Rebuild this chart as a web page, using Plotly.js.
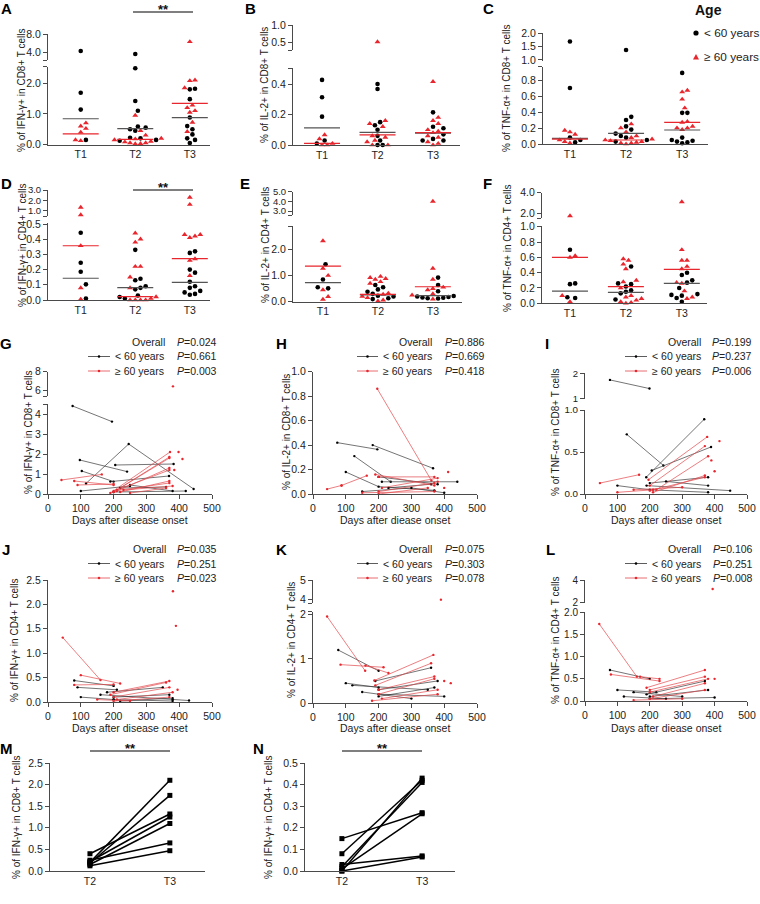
<!DOCTYPE html>
<html><head><meta charset="utf-8">
<script src="https://cdn.plot.ly/plotly-3.0.1.min.js"></script>
<style>html,body{margin:0;padding:0;background:#fff}#c{width:760px;height:904px}</style>
</head><body><div id="c"></div>
<script>
// ---------------- DATA ----------------
const timeLabels = ['T1','T2','T3'];
const pairLabels = ['T2','T3'];
// A: IFN-γ+ in CD8+ (per time point T1,T2,T3)
const A_young = [[4.3,1.69,1.14,0.15],[3.64,2.49,1.42,1.10,0.59,0.55,0.50,0.45,0.22,0.20,0.15,0.12],[1.82,1.80,1.48,0.88,0.60,0.50,0.33,0.20,0.15,0.05]];
const A_old   = [[0.70,0.60,0.52,0.40,0.15,0.12],[0.95,0.45,0.30,0.20,0.18,0.15,0.10,0.08,0.05,0.05,0.03,0.02],[6.3,2.10,2.08,1.85,1.28,1.20,1.10,1.05,0.72,0.42]];
const A_meanYoung = [0.84,0.52,0.88], A_meanOld = [0.35,0.17,1.34];
// B: IL-2+ in CD8+
const B_young = [[0.427,0.313,0.186,0.03,0.01],[0.40,0.367,0.15,0.13,0.10,0.06,0.03,0.0,0.0],[0.214,0.12,0.11,0.07,0.04,0.03,0.03]];
const B_old   = [[0.066,0.04,0.01,0.0,0.0],[0.52,0.16,0.14,0.12,0.06,0.05,0.03,0.02,0.0,0.0],[0.415,0.18,0.16,0.14,0.10,0.09,0.08,0.06,0.05,0.02,0.01,0.0]];
const B_meanYoung = [0.112,0.083,0.078], B_meanOld = [0.011,0.066,0.081];
// C: TNF-α+ in CD8+
const C_young = [[1.69,0.70,0.08,0.05,0.02],[1.375,0.34,0.30,0.22,0.18,0.13,0.10,0.08,0.05,0.03],[0.89,0.39,0.39,0.08,0.05,0.04,0.03,0.02,0.01]];
const C_old   = [[0.17,0.15,0.12,0.05,0.03,0.01],[0.25,0.20,0.15,0.10,0.08,0.06,0.05,0.04,0.03,0.02,0.01,0.01,0.0],[0.67,0.65,0.56,0.45,0.28,0.27,0.22,0.20,0.20,0.18]];
const C_meanYoung = [0.071,0.133,0.175], C_meanOld = [0.06,0.05,0.27];
// D: IFN-γ+ in CD4+
const D_young = [[0.443,0.245,0.186,0.103,0.01],[0.33,0.14,0.13,0.09,0.08,0.07,0.03,0.02,0.01],[0.32,0.31,0.20,0.18,0.12,0.09,0.08,0.06,0.05,0.04,0.035]];
const D_old   = [[1.32,0.6,0.357,0.08,0.005],[0.44,0.40,0.38,0.22,0.22,0.15,0.08,0.02,0.01,0.0,0.0,0.0,0.0],[2.29,1.6,0.43,0.43,0.42,0.41,0.27,0.26,0.16]];
const D_meanYoung = [0.143,0.081,0.116], D_meanOld = [0.357,0.022,0.272];
// E: IL-2+ in CD4+
const E_young = [[1.43,0.85,0.55,0.51],[0.64,0.55,0.47,0.38,0.30,0.23,0.20,0.13,0.10],[0.92,0.64,0.40,0.22,0.20,0.18,0.16,0.15,0.13,0.12]];
const E_old   = [[2.32,1.27,1.0,0.45,0.19,0.09],[0.96,0.92,0.88,0.85,0.76,0.70,0.32,0.28,0.20,0.15,0.06,0.02],[4.0,1.27,0.85,0.55,0.50,0.45,0.30,0.25,0.10]];
const E_meanYoung = [0.73,0.26,0.23], E_meanOld = [1.36,0.28,0.57];
// F: TNF-α+ in CD4+
const F_young = [[0.70,0.26,0.25,0.08,0.07],[0.48,0.26,0.25,0.22,0.17,0.15,0.13,0.05],[0.40,0.37,0.30,0.27,0.20,0.12,0.11,0.10,0.07,0.02]];
const F_old   = [[1.74,0.62,0.60,0.10,0.02],[0.58,0.56,0.51,0.45,0.30,0.28,0.20,0.10,0.08,0.06,0.04,0.02,0.01,0.0],[3.1,0.70,0.56,0.56,0.48,0.45,0.27,0.26,0.16,0.08,0.06]];
const F_meanYoung = [0.16,0.143,0.26], F_meanOld = [0.60,0.217,0.443];

// G-L: days after onset / values per subject
const G_young_days = [[75,195],[116,246,444],[97,241],[103,200],[205,383],[190,369],[200,420],[100,250],[220,360],[250,380]];
const G_young_vals = [[4.4,3.62],[0.53,2.5,0.25],[1.7,1.12],[1.15,0.62],[1.45,1.5],[0.62,0.9],[0.1,0.15],[0.15,0.4],[0.3,0.35],[0.45,0.15]];
const G_old_days = [[41,164],[80,200],[90,200],[190,372],[200,370],[200,370],[210,370],[210,370],[220,370],[200,370],[230,380],[250,360]];
const G_old_vals = [[0.7,0.98],[0.65,0.45],[0.45,0.5],[0.05,2.1],[0.1,1.85],[0.1,1.8],[0.15,1.3],[0.2,1.2],[0.1,0.65],[0.15,0.55],[0.2,0.4],[0.05,0.3]];
const G_single_days = [381,398,410,385], G_single_vals = [6.4,2.1,1.75,1.2];

const H_young_days = [[74,196],[182,366],[126,237],[100,200,370],[200,380],[210,440],[150,300,400],[230,360]];
const H_young_vals = [[0.42,0.365],[0.40,0.21],[0.31,0.10],[0.18,0.06,0.03],[0.14,0.08],[0.1,0.1],[0.02,0.05,0.01],[0.05,0.08]];
const H_old_days = [[196,361],[43,87],[87,164],[190,370],[200,370],[210,380],[200,370],[200,350],[150,370]];
const H_old_vals = [[0.86,0.11],[0.04,0.07],[0.07,0.15],[0.16,0.07],[0.14,0.14],[0.05,0.13],[0.02,0.09],[0.0,0.05],[0.01,0.02]];
const H_single_days = [412,400,380], H_single_vals = [0.18,0.05,0.1];

const I_young_days = [[77,199],[129,242],[189,368],[206,389],[200,380],[190,448],[100,200,380],[250,380]];
const I_young_vals = [[1.74,1.40],[0.71,0.34],[0.20,0.89],[0.28,0.56],[0.13,0.2],[0.1,0.04],[0.1,0.05,0.02],[0.15,0.1]];
const I_old_days = [[46,167],[196,377],[200,370],[220,380],[210,370],[200,370],[150,300],[100,210]];
const I_old_vals = [[0.13,0.23],[0.17,0.68],[0.1,0.57],[0.05,0.45],[0.02,0.22],[0.04,0.2],[0.05,0.08],[0.02,0.05]];
const I_single_days = [415,400,390], I_single_vals = [0.63,0.27,0.4];

const J_young_days = [[80,200],[90,210],[100,200],[180,350],[200,370],[200,380],[220,380],[160,380,430]];
const J_young_vals = [[0.44,0.33],[0.3,0.25],[0.1,0.05],[0.2,0.3],[0.1,0.15],[0.05,0.02],[0.02,0.08],[0.15,0.05,0.03]];
const J_old_days = [[45,160],[100,220],[80,200],[200,370],[190,360],[200,370],[210,380],[200,370],[150,250]];
const J_old_vals = [[1.32,0.45],[0.55,0.38],[0.35,0.36],[0.2,0.43],[0.15,0.4],[0.1,0.3],[0.05,0.2],[0.02,0.1],[0.05,0.02]];
const J_single_days = [381,390,395], J_single_vals = [2.27,1.56,0.25];

const K_young_days = [[77,200],[100,200],[190,360],[200,380],[120,350],[200,400],[150,300],[200,370]];
const K_young_vals = [[1.2,0.73],[0.45,0.35],[0.5,0.8],[0.3,0.5],[0.4,0.3],[0.2,0.15],[0.25,0.1],[0.15,0.35]];
const K_old_days = [[43,159],[84,215],[187,367],[190,360],[160,230],[200,370],[200,370],[210,380],[180,380]];
const K_old_vals = [[1.96,0.73],[0.87,0.81],[0.51,1.09],[0.4,0.9],[0.85,0.68],[0.3,0.6],[0.2,0.55],[0.1,0.3],[0.05,0.2]];
const K_single_days = [390,400,420], K_single_vals = [4.0,0.5,0.45];

const L_young_days = [[77,200],[100,220],[190,370],[200,380],[150,300],[200,400],[120,250]];
const L_young_vals = [[0.7,0.5],[0.25,0.2],[0.15,0.45],[0.1,0.25],[0.2,0.1],[0.05,0.08],[0.1,0.05]];
const L_old_days = [[44,160],[80,230],[170,230],[190,370],[200,370],[200,380],[210,370],[200,370],[150,300]];
const L_old_vals = [[1.74,0.55],[0.6,0.45],[0.55,0.5],[0.3,0.7],[0.25,0.55],[0.2,0.5],[0.1,0.4],[0.05,0.25],[0.02,0.05]];
const L_single_days = [394,400], L_single_vals = [3.2,0.5];

const P_overall = ['0.024','0.886','0.199','0.035','0.075','0.106'];
const P_young   = ['0.661','0.669','0.237','0.251','0.303','0.251'];
const P_old     = ['0.003','0.418','0.006','0.023','0.078','0.008'];

// M, N paired T2 -> T3
const M_T2 = [0.20,0.18,0.40,0.22,0.15,0.25,0.12];
const M_T3 = [2.10,1.75,1.32,1.25,1.10,0.65,0.47];
const N_T2 = [0.00,0.08,0.02,0.15,0.01,0.03,0.00];
const N_T3 = [0.43,0.42,0.41,0.27,0.265,0.07,0.065];

// ---------------- STYLE / HELPERS ----------------
const FONT = '"Liberation Sans", Arial, sans-serif';
const W = 760, H = 904;
const AX = '#4a4a4a', TXT = '#222', RED = '#e8262d', REDL = '#e3474c';
const fx = p => p / W, fy = p => 1 - p / H;
const layout = {width:W, height:H, margin:{l:0,r:0,t:0,b:0}, paper_bgcolor:'#fff', plot_bgcolor:'rgba(0,0,0,0)',
  showlegend:false, font:{family:FONT, size:10, color:TXT}, annotations:[], shapes:[]};
const data = [];
let nx = 0, ny = 0;

function addPanel(p){
  nx++; p.xn = nx===1 ? 'x' : 'x'+nx; const xkey = nx===1 ? 'xaxis' : 'xaxis'+nx;
  p.yn = [];
  p.segs.forEach(s => { ny++; s.id = ny; p.yn.push(ny===1 ? 'y' : 'y'+ny); });
  layout[xkey] = {domain:[fx(p.xpx[0]), fx(p.xpx[1])], range:p.xrange, anchor:p.yn[0], showline:true, linecolor:AX, linewidth:1,
    ticks:p.xticks ? 'outside' : '', ticklen:4, tickwidth:1, tickcolor:AX, tickmode:'array', tickvals:p.xtickvals, ticktext:p.xticktext,
    tickfont:{size:10.5, color:TXT, family:FONT}, showgrid:false, zeroline:false, fixedrange:true};
  p.segs.forEach((s, i) => {
    const tv = s.tickvals.slice(), tt = s.ticktext.slice();
    const ppu = (s.bot - s.top) / (s.range[1] - s.range[0]);
    if (p.segs.length > 1){
      const b = i===0 ? s.range[1] : s.range[0];
      if (tv.every(t => Math.abs(t - b) * ppu > 3)) { tv.push(b); tt.push(''); }
    }
    layout[s.id===1 ? 'yaxis' : 'yaxis'+s.id] = {domain:[fy(s.bot), fy(s.top)], range:s.range, anchor:p.xn, showline:true,
      linecolor:AX, linewidth:1, ticks:'outside', ticklen:4, tickwidth:1, tickcolor:AX, tickmode:'array', tickvals:tv, ticktext:tt,
      tickfont:{size:s.tf || 10.5, color:TXT, family:FONT}, showgrid:false, zeroline:false, fixedrange:true};
  });
  p.segFor = v => { for (let i=0;i<p.segs.length;i++){ if (v <= p.segs[i].range[1] || i===p.segs.length-1) return i; } };
  p.toPx = v => { const s = p.segs[p.segFor(v)]; return s.bot - (v - s.range[0]) / (s.range[1]-s.range[0]) * (s.bot - s.top); };
  p.pxPerX = (p.xpx[1]-p.xpx[0]) / (p.xrange[1]-p.xrange[0]);
  return p;
}

function swarm(vals, toPx, d){
  const order = vals.map((v,i)=>i).sort((a,b)=>vals[a]-vals[b]);
  const placed = [], off = new Array(vals.length).fill(0);
  order.forEach(i => {
    const y = toPx(vals[i]);
    for (let k=0;k<80;k++){
      const c = k===0 ? 0 : (k%2 ? 1 : -1) * Math.ceil(k/2) * d * 0.5;
      if (placed.every(q => (q.x-c)*(q.x-c) + (q.y-y)*(q.y-y) >= d*d*0.85)) { off[i]=c; placed.push({x:c,y}); break; }
    }
  });
  return off;
}

function drawScatter(p, young, old, meanY, meanO){
  const buckets = {};
  const key = (age, si) => age+'_'+si;
  for (let c=0;c<young.length;c++){
    const vals = young[c].concat(old[c]);
    const offs = swarm(vals, p.toPx, 5.2);
    vals.forEach((v,i) => {
      const age = i < young[c].length ? 'y' : 'o';
      const si = p.segFor(v); const k = key(age, si);
      if (!buckets[k]) buckets[k] = {age, si, x:[], y:[]};
      buckets[k].x.push(c+1 + offs[i]/p.pxPerX); buckets[k].y.push(v);
    });
  }
  Object.values(buckets).forEach(b => {
    data.push({type:'scatter', mode:'markers', xaxis:p.xn, yaxis:p.yn[b.si], x:b.x, y:b.y, cliponaxis:false, hoverinfo:'skip',
      marker: b.age==='y' ? {symbol:'circle', size:4.6, color:'#000', line:{width:0}} : {symbol:'triangle-up', size:5.2, color:RED, line:{width:0}}});
  });
  const hw = 18 / p.pxPerX;
  [[meanY,'#555'],[meanO,RED]].forEach(([arr,col]) => {
    arr.forEach((m,c) => {
      data.push({type:'scatter', mode:'lines', xaxis:p.xn, yaxis:p.yn[p.segFor(m)], x:[c+1-hw, c+1+hw], y:[m,m], hoverinfo:'skip',
        line:{color:col, width:1.2}, cliponaxis:false});
    });
  });
}

function drawLines(p, yd, yv, od, ov, sd, sv){
  const one = (days, vals, col, mcol) => {
    days.forEach((d,i) => {
      data.push({type:'scatter', mode:'lines+markers', xaxis:p.xn, yaxis:p.yn[p.segFor(vals[i][0])], x:d, y:vals[i], hoverinfo:'skip',
        cliponaxis:false, line:{color:col, width:0.7}, marker:{size:2.4, color:mcol}});
    });
  };
  one(yd, yv, '#3a3a3a', '#000');
  one(od, ov, REDL, RED);
  sd.forEach((d,i) => {
    data.push({type:'scatter', mode:'markers', xaxis:p.xn, yaxis:p.yn[p.segFor(sv[i])], x:[d], y:[sv[i]], hoverinfo:'skip',
      cliponaxis:false, marker:{size:2.4, color:RED}});
  });
}

function ann(text, x, y, opt){
  layout.annotations.push(Object.assign({text, x:fx(x), y:fy(y), xref:'paper', yref:'paper', showarrow:false,
    xanchor:'center', yanchor:'middle', font:{family:FONT, size:10.5, color:TXT}}, opt||{}));
}
function letter(t, x, y){ ann('<b>'+t+'</b>', x, y, {font:{family:FONT, size:15, color:'#000'}}); }
function ytitle(t, x, y){ ann(t, x, y, {textangle:-90, font:{family:FONT, size:10, color:TXT}}); }
function hline(x0, x1, y, col, w){ layout.shapes.push({type:'line', xref:'paper', yref:'paper', x0:fx(x0), x1:fx(x1), y0:fy(y), y1:fy(y), line:{color:col, width:w}}); }
function dot(x, y, r, col){ layout.shapes.push({type:'circle', xref:'paper', yref:'paper', x0:fx(x-r), x1:fx(x+r), y0:fy(y+r), y1:fy(y-r), fillcolor:col, line:{width:0}}); }
function sig(x0, x1, y){ hline(x0, x1, y, '#555', 1.3); ann('<b>**</b>', (x0+x1)/2, y-12, {yanchor:'top', font:{family:FONT, size:13, color:'#111'}}); }
function lineLegend(idx, lx0, lx1, labRight, pX, y0){
  const ys = [y0, y0+14.5, y0+29];
  ann('Overall', labRight, ys[0], {xanchor:'right'});
  ann('< 60 years', lx1+3, ys[1], {xanchor:'left'});
  ann('≥ 60 years', lx1+3, ys[2], {xanchor:'left'});
  ann('<i>P</i>=' + P_overall[idx], pX, ys[0], {xanchor:'left'});
  ann('<i>P</i>=' + P_young[idx], pX, ys[1], {xanchor:'left'});
  ann('<i>P</i>=' + P_old[idx], pX, ys[2], {xanchor:'left'});
  hline(lx0, lx1, ys[1], '#333', 0.8); dot((lx0+lx1)/2, ys[1], 1.3, '#000');
  hline(lx0, lx1, ys[2], REDL, 0.8); dot((lx0+lx1)/2, ys[2], 1.3, RED);
}
const lab = arr => arr.map(v => v.toFixed(1));

// ---------------- PANELS A-F ----------------
const pA = addPanel({xpx:[48,210], xrange:[0.4,3.37], xtickvals:[1,2,3], xticktext:timeLabels,
  segs:[{top:66.7, bot:144.5, range:[0,2.54], tickvals:[0,1,2], ticktext:lab([0,1,2])},
        {top:34, bot:60, range:[2.32,8.0], tickvals:[4,8], ticktext:lab([4,8])}]});
drawScatter(pA, A_young, A_old, A_meanYoung, A_meanOld);
const pB = addPanel({xpx:[293,460], xrange:[0.477,3.486], xtickvals:[1,2,3], xticktext:timeLabels,
  segs:[{top:68.3, bot:145, range:[0,0.503], tickvals:[0,0.2,0.4], ticktext:lab([0,0.2,0.4])},
        {top:25, bot:50, range:[0.29,1.0], tickvals:[0.5,1.0], ticktext:lab([0.5,1.0])}]});
drawScatter(pB, B_young, B_old, B_meanYoung, B_meanOld);
const pC = addPanel({xpx:[543,708], xrange:[0.52,3.46], xtickvals:[1,2,3], xticktext:timeLabels,
  segs:[{top:66.5, bot:144, range:[0,0.97], tickvals:[0,0.2,0.4,0.6,0.8], ticktext:lab([0,0.2,0.4,0.6,0.8])},
        {top:33.3, bot:61, range:[0.96,2.0], tickvals:[1,1.5,2], ticktext:lab([1,1.5,2])}]});
drawScatter(pC, C_young, C_old, C_meanYoung, C_meanOld);
const pD = addPanel({xpx:[48,210], xrange:[0.4,3.37], xtickvals:[1,2,3], xticktext:timeLabels,
  segs:[{top:222.5, bot:300, range:[0,0.51], tickvals:[0,0.1,0.2,0.3,0.4,0.5], ticktext:lab([0,0.1,0.2,0.3,0.4,0.5])},
        {top:190, bot:216, range:[0.49,3.0], tickvals:[1,2,3], ticktext:lab([1,2,3]), tf:9.5}]});
drawScatter(pD, D_young, D_old, D_meanYoung, D_meanOld);
const pE = addPanel({xpx:[293,462], xrange:[0.455,3.53], xtickvals:[1,2,3], xticktext:timeLabels,
  segs:[{top:226, bot:301.7, range:[0,2.89], tickvals:[0,1,2], ticktext:lab([0,1,2])},
        {top:191.7, bot:215, range:[2.6,5.0], tickvals:[3,4,5], ticktext:lab([3,4,5]), tf:9.5}]});
drawScatter(pE, E_young, E_old, E_meanYoung, E_meanOld);
const pF = addPanel({xpx:[542,707], xrange:[0.5,3.45], xtickvals:[1,2,3], xticktext:timeLabels,
  segs:[{top:226, bot:303.3, range:[0,1.01], tickvals:[0,0.2,0.4,0.6,0.8,1.0], ticktext:lab([0,0.2,0.4,0.6,0.8,1.0])},
        {top:192.7, bot:218, range:[1.54,4.0], tickvals:[2,4], ticktext:lab([2,4])}]});
drawScatter(pF, F_young, F_old, F_meanYoung, F_meanOld);

// ---------------- PANELS G-L ----------------
const dayTicks = [0,100,200,300,400,500];
const dayText = dayTicks.map(String);
const pG = addPanel({xpx:[48,212], xrange:[0,500], xticks:true, xtickvals:dayTicks, xticktext:dayText,
  segs:[{top:404, bot:494, range:[0,4.5], tickvals:[0,1,2,3,4], ticktext:['0','1','2','3','4']},
        {top:371.7, bot:396, range:[5.35,8], tickvals:[6,8], ticktext:['6','8']}]});
drawLines(pG, G_young_days, G_young_vals, G_old_days, G_old_vals, G_single_days, G_single_vals);
const pH = addPanel({xpx:[313,477], xrange:[0,500], xticks:true, xtickvals:dayTicks, xticktext:dayText,
  segs:[{top:371.7, bot:494, range:[0,1], tickvals:[0,0.2,0.4,0.6,0.8,1.0], ticktext:lab([0,0.2,0.4,0.6,0.8,1.0])}]});
drawLines(pH, H_young_days, H_young_vals, H_old_days, H_old_vals, H_single_days, H_single_vals);
const pI = addPanel({xpx:[585,747], xrange:[0,500], xticks:true, xtickvals:dayTicks, xticktext:dayText,
  segs:[{top:410, bot:494, range:[0,1], tickvals:[0,0.5,1.0], ticktext:lab([0,0.5,1.0]), tf:9.8},
        {top:373.3, bot:399, range:[0.99,2], tickvals:[1,2], ticktext:['1','2'], tf:9.5}]});
drawLines(pI, I_young_days, I_young_vals, I_old_days, I_old_vals, I_single_days, I_single_vals);
const pJ = addPanel({xpx:[48,212], xrange:[0,500], xticks:true, xtickvals:dayTicks, xticktext:dayText,
  segs:[{top:580, bot:702, range:[0,2.5], tickvals:[0,0.5,1,1.5,2,2.5], ticktext:lab([0,0.5,1,1.5,2,2.5])}]});
drawLines(pJ, J_young_days, J_young_vals, J_old_days, J_old_vals, J_single_days, J_single_vals);
const pK = addPanel({xpx:[313,477], xrange:[0,500], xticks:true, xtickvals:dayTicks, xticktext:dayText,
  segs:[{top:611.7, bot:703, range:[0,2.07], tickvals:[0,1,2], ticktext:['0','1','2']},
        {top:580, bot:603, range:[3.83,5], tickvals:[4,5], ticktext:['4','5']}]});
drawLines(pK, K_young_days, K_young_vals, K_old_days, K_old_vals, K_single_days, K_single_vals);
const pL = addPanel({xpx:[585,747], xrange:[0,500], xticks:true, xtickvals:dayTicks, xticktext:dayText,
  segs:[{top:612, bot:701, range:[0,2.01], tickvals:[0,0.5,1,1.5,2], ticktext:lab([0,0.5,1,1.5,2]), tf:10},
        {top:580, bot:603, range:[1.97,4], tickvals:[2,4], ticktext:['2','4'], tf:10}]});
drawLines(pL, L_young_days, L_young_vals, L_old_days, L_old_vals, L_single_days, L_single_vals);

// ---------------- PANELS M, N ----------------
const pM = addPanel({xpx:[50,205], xrange:[0.5,2.44], xtickvals:[1,2], xticktext:pairLabels,
  segs:[{top:763, bot:871, range:[0,2.5], tickvals:[0,0.5,1,1.5,2,2.5], ticktext:lab([0,0.5,1,1.5,2,2.5])}]});
const pN = addPanel({xpx:[305,455], xrange:[0.54,2.41], xtickvals:[1,2], xticktext:pairLabels,
  segs:[{top:763, bot:871, range:[0,0.5], tickvals:[0,0.1,0.2,0.3,0.4,0.5], ticktext:lab([0,0.1,0.2,0.3,0.4,0.5])}]});
[[pM, M_T2, M_T3],[pN, N_T2, N_T3]].forEach(([p,a,b]) => {
  a.forEach((v,i) => data.push({type:'scatter', mode:'lines+markers', xaxis:p.xn, yaxis:p.yn[0], x:[1,2], y:[v,b[i]],
    hoverinfo:'skip', cliponaxis:false, line:{color:'#000', width:1.5}, marker:{symbol:'square', size:5, color:'#000'}}));
});

// ---------------- TEXT ----------------
letter('A',6,8); letter('B',250,8); letter('C',489,8);
letter('D',6,183); letter('E',245,183); letter('F',487,183);
letter('G',6,343); letter('H',281,343); letter('I',547,343);
letter('J',6,549); letter('K',281,549); letter('L',550,549);
letter('M',6,748); letter('N',258,748);

ytitle('% of IFN-γ+ in CD8+ T cells', 22, 90);
ytitle('% of IL-2+ in CD8+ T cells', 265, 85);
ytitle('% of TNF-α+ in CD8+ T cells', 506, 88);
ytitle('% of IFN-γ+ in CD4+ T cells', 22, 245);
ytitle('% of IL-2+ in CD4+ T cells', 265, 245);
ytitle('% of TNF-α+ in CD4+ T cells', 508, 248);
ytitle('% of IFN-γ+ in CD8+ T cells', 28, 432);
ytitle('% of IL-2+ in CD8+ T cells', 286, 432);
ytitle('% of TNF-α+ in CD8+ T cells', 555, 432);
ytitle('% of IFN-γ+ in CD4+ T cells', 14, 640);
ytitle('% of IL-2+ in CD4+ T cells', 291, 640);
ytitle('% of TNF-α+ in CD4+ T cells', 555, 640);
ytitle('% of IFN-γ+ in CD8+ T cells', 16, 817);
ytitle('% of IFN-γ+ in CD4+ T cells', 268, 817);

ann('Days after disease onset', 130, 520);
ann('Days after diease onset', 395, 520);
ann('Days after diease onset', 666, 520);
ann('Days after disease onset', 130, 728);
ann('Days after diease onset', 395, 728);
ann('Days after diease onset', 666, 728);

lineLegend(0, 88, 110, 167, 175, 342);
lineLegend(1, 357, 378, 434, 443, 342);
lineLegend(2, 625, 647, 703, 710, 342);
lineLegend(3, 88, 110, 168, 175, 549);
lineLegend(4, 357, 378, 434, 443, 549);
lineLegend(5, 625, 647, 703, 711, 549);

sig(133, 193, 12);
sig(133, 193, 190);
sig(90, 170, 751);
sig(342, 422, 751);

// Age legend
ann('<b>Age</b>', 693, 10, {xanchor:'left', font:{family:FONT, size:14, color:'#111'}});
dot(696, 33, 2.6, '#000');
layout.shapes.push({type:'path', xref:'paper', yref:'paper', fillcolor:RED, line:{width:0},
  path:`M ${fx(696)} ${fy(54)} L ${fx(693)} ${fy(59.5)} L ${fx(699)} ${fy(59.5)} Z`});
ann('< 60 years', 702, 33, {xanchor:'left', font:{family:FONT, size:11.8, color:TXT}});
ann('≥ 60 years', 702, 57, {xanchor:'left', font:{family:FONT, size:11.8, color:TXT}});

Plotly.newPlot('c', data, layout, {staticPlot:true, displayModeBar:false});
</script></body></html>
